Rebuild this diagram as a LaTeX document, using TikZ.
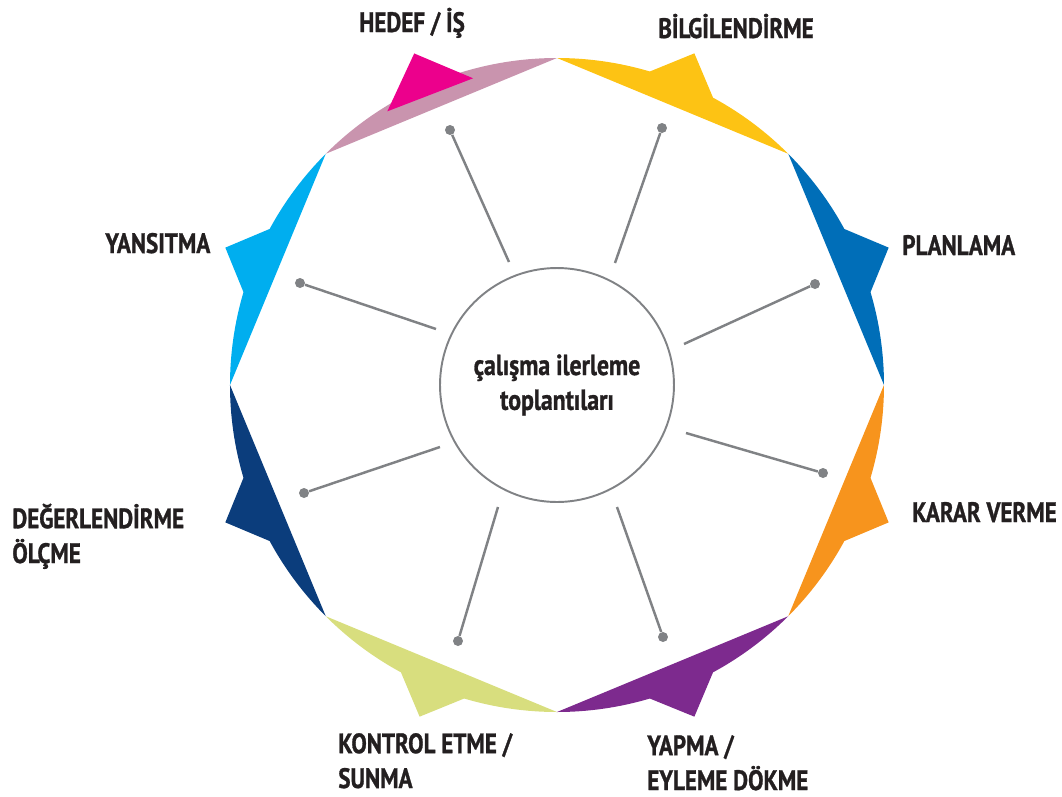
\documentclass[tikz,border=0pt]{standalone}
\usepackage{fontspec}
\newfontfamily\labelfont[FakeStretch=0.82,BoldFeatures={FakeBold=1}]{PT Sans}
\definecolor{hedefband}{HTML}{C994AE}
\definecolor{hedefarrow}{HTML}{EC008C}
\definecolor{bilgi}{HTML}{FDC314}
\definecolor{plan}{HTML}{006EB8}
\definecolor{karar}{HTML}{F7941D}
\definecolor{yapma}{HTML}{7D2A8E}
\definecolor{kontrol}{HTML}{D8DE7E}
\definecolor{degerlendirme}{HTML}{0B3D7C}
\definecolor{yansitma}{HTML}{00AEEF}
\definecolor{spokegray}{HTML}{808285}
\definecolor{labeltext}{HTML}{231F20}
\begin{document}
\begin{tikzpicture}[x=0.02cm, y=0.02cm, font=\labelfont\bfseries\fontsize{16}{19.8}\selectfont, text=labeltext]
    \tikzstyle{hub}=[circle, draw=spokegray, line width=1.1pt, minimum size=4.68cm, inner sep=0pt, align=center, font=\labelfont\bfseries\fontsize{16.5}{19.8}\selectfont]
    \tikzstyle{dot}=[circle, fill=spokegray, inner sep=0pt, minimum size=0.2cm]
    \tikzstyle{spoke}=[draw=spokegray, line width=1.4pt]
    \tikzstyle{stagename}=[anchor=base west, inner sep=0pt, text depth=0pt, align=left]

    \useasboundingbox (-557,-411) rectangle (505,385);

    \fill[plan] (0:327) arc[start angle=0, end angle=16.5, radius=6.54cm] -- (22.5:359) -- (28.5:327) arc[start angle=28.5, end angle=45, radius=6.54cm] -- cycle;
    \fill[bilgi] (45:327) arc[start angle=45, end angle=61.5, radius=6.54cm] -- (67.5:359) -- (73.5:327) arc[start angle=73.5, end angle=90, radius=6.54cm] -- cycle;
    \fill[hedefband] (90:327) arc[start angle=90, end angle=135, radius=6.54cm] -- cycle;
    \fill[hedefarrow] (105.3:318) -- (113.3:361) -- (121.8:322) -- cycle;
    \fill[yansitma] (135:327) arc[start angle=135, end angle=151.5, radius=6.54cm] -- (157.5:359) -- (163.5:327) arc[start angle=163.5, end angle=180, radius=6.54cm] -- cycle;
    \fill[degerlendirme] (180:327) arc[start angle=180, end angle=196.5, radius=6.54cm] -- (202.5:359) -- (208.5:327) arc[start angle=208.5, end angle=225, radius=6.54cm] -- cycle;
    \fill[kontrol] (225:327) arc[start angle=225, end angle=241.5, radius=6.54cm] -- (247.5:359) -- (253.5:327) arc[start angle=253.5, end angle=270, radius=6.54cm] -- cycle;
    \fill[yapma] (270:327) arc[start angle=270, end angle=286.5, radius=6.54cm] -- (292.5:359) -- (298.5:327) arc[start angle=298.5, end angle=315, radius=6.54cm] -- cycle;
    \fill[karar] (315:327) arc[start angle=315, end angle=331.5, radius=6.54cm] -- (337.5:359) -- (343.5:327) arc[start angle=343.5, end angle=360, radius=6.54cm] -- cycle;

    \node[hub] (hub) at (0,0) {çalışma ilerleme\\toplantıları};

    \coordinate (i1) at (-48,123);
    \coordinate (i2) at (58,122);
    \coordinate (i3) at (127,41);
    \coordinate (i4) at (129,-48);
    \coordinate (i5) at (60,-122);
    \coordinate (i6) at (-59,-122);
    \coordinate (i7) at (-117,-62);
    \coordinate (i8) at (-121,56);

    \node[dot] (d1) at (-107,255) {};
    \node[dot] (d2) at (105,257) {};
    \node[dot] (d3) at (258,101) {};
    \node[dot] (d4) at (266,-88) {};
    \node[dot] (d5) at (106,-252) {};
    \node[dot] (d6) at (-99,-256) {};
    \node[dot] (d7) at (-253,-108) {};
    \node[dot] (d8) at (-257,102) {};

    \draw[spoke] (i1) -- (d1);
    \draw[spoke] (i2) -- (d2);
    \draw[spoke] (i3) -- (d3);
    \draw[spoke] (i4) -- (d4);
    \draw[spoke] (i5) -- (d5);
    \draw[spoke] (i6) -- (d6);
    \draw[spoke] (i7) -- (d7);
    \draw[spoke] (i8) -- (d8);

    \node[stagename] (hedef) at (-198,353) {HEDEF / İŞ};
    \node[stagename] (bilgilendirme) at (101,347) {BİLGİLENDİRME};
    \node[stagename] (planlama) at (345,130) {PLANLAMA};
    \node[stagename] (kararverme) at (355,-137) {KARAR VERME};
    \node[stagename] (yapma) at (90,-405) {YAPMA /\\EYLEME DÖKME};
    \node[stagename] (kontroletme) at (-219,-403) {KONTROL ETME /\\SUNMA};
    \node[stagename] (degerlendirme) at (-545,-178) {DEĞERLENDİRME\\ÖLÇME};
    \node[stagename] (yansitma) at (-452,132) {YANSITMA};
\end{tikzpicture}
\end{document}
